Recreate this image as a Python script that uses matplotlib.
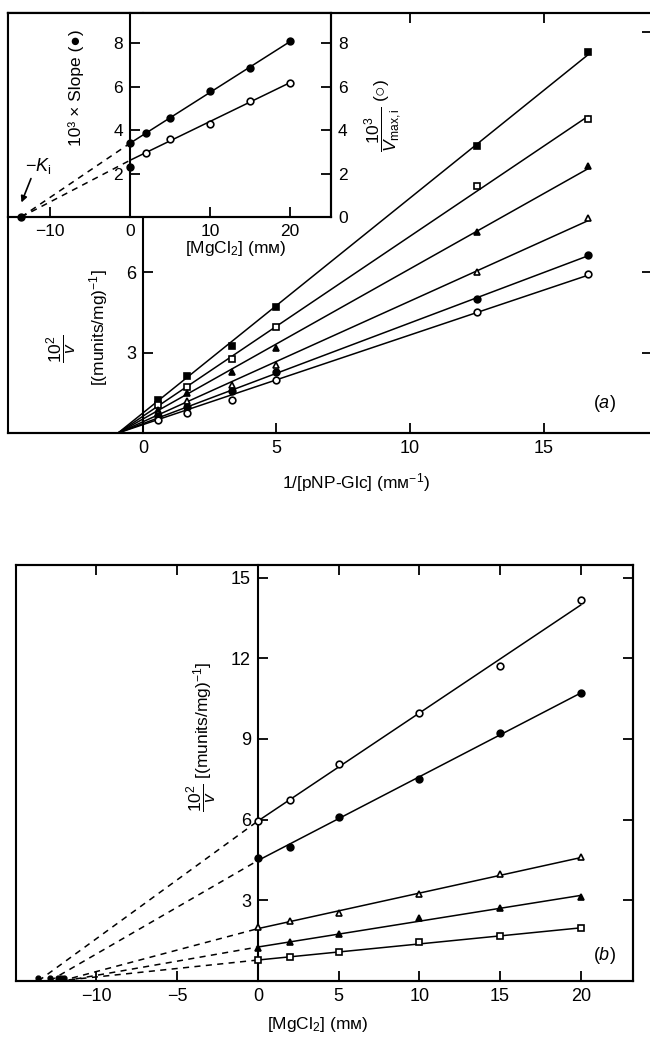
import numpy as np
import matplotlib.pyplot as plt

plt.rcParams['font.family'] = ['Liberation Sans', 'DejaVu Sans']
plt.rcParams['mathtext.fontset'] = 'custom'
plt.rcParams['mathtext.rm'] = 'Liberation Sans'
plt.rcParams['mathtext.it'] = 'Liberation Sans:italic'
plt.rcParams['mathtext.bf'] = 'Liberation Sans:bold'

# ---- (a) double-reciprocal plot, one line per [MgCl2] ----
inv_s = [0.56, 1.67, 3.33, 5.0, 12.5, 16.67]          # 1/[pNP-Glc] (mM^-1)
a_mg20 = [1.24, 2.12, 3.24, 4.70, 10.73, 14.25]       # filled squares
a_mg15 = [1.06, 1.72, 2.76, 3.96, 9.23, 11.73]        # open squares
a_mg10 = [0.87, 1.51, 2.29, 3.18, 7.50, 9.98]         # filled triangles
a_mg5 = [0.74, 1.18, 1.80, 2.54, 6.03, 8.03]          # open triangles
a_mg2 = [0.62, 0.99, 1.58, 2.28, 5.00, 6.65]          # filled circles
a_mg0 = [0.50, 0.76, 1.24, 1.99, 4.53, 5.94]          # open circles
a_cross = -0.93                                       # common point on abscissa

# ---- inset: secondary plots ----
mg_inset = [0, 2, 5, 10, 15, 20]
slope_1e3 = [3.39, 3.85, 4.58, 5.82, 6.85, 8.10]      # filled circles
inv_vmax_1e3 = [2.32, 2.96, 3.58, 4.29, 5.36, 6.19]   # open circles
ki_inset = -13.6

# ---- (b) 10^2/v against [MgCl2] at fixed substrate ----
mg_b = [0, 2, 5, 10, 15, 20]
b_s1 = [5.95, 6.73, 8.07, 9.96, 11.70, 14.16]   # open circles
b_s2 = [4.57, 4.98, 6.10, 7.50, 9.22, 10.70]    # filled circles
b_s3 = [2.00, 2.24, 2.52, 3.22, 3.97, 4.60]     # open triangles
b_s4 = [1.22, 1.45, 1.73, 2.33, 2.72, 3.12]     # filled triangles
b_s5 = [0.77, 0.88, 1.08, 1.44, 1.66, 1.96]     # open squares
b_ki = [-13.6, -12.9, -12.2, -12.0, -12.4]

W, H = 650, 1038
fig = plt.figure(figsize=(W / 100, H / 100), dpi=100)


def rect(left, top, right, bottom):
    return [left / W, 1 - bottom / H, (right - left) / W, (bottom - top) / H]


def fpos(x, y):
    return x / W, 1 - y / H


LW = 1.5
FIT = 1.1
MS = 4.8
TICK = dict(direction='in', length=7, width=1.3, labelsize=13, pad=5)


def style_spines(ax):
    for s in ax.spines.values():
        s.set_linewidth(LW)


def marks(ax, x, y, m, filled, **kw):
    ax.plot(x, y, m, color='k', ms=MS, mew=1.2,
            mfc='k' if filled else 'white', clip_on=False, zorder=5, **kw)


# ================= panel (a) =================
ax = fig.add_axes(rect(8, 13, 652, 433))
ax.set_xlim(-5.05, 19.06)
ax.set_ylim(0, 15.7)
style_spines(ax)
ax.spines['left'].set_position(('data', 0))
ax.set_xticks([0, 5, 10, 15])
ax.set_yticks([3, 6])
ax.tick_params(**TICK)
ax.tick_params(axis='x', top=True)
tw = ax.twinx()
tw.set_ylim(ax.get_ylim())
tw.set_yticks([3, 6, 15])
tw.tick_params(**TICK)
tw.tick_params(labelright=False)
style_spines(tw)

series_a = [(a_mg20, 's', True), (a_mg15, 's', False), (a_mg10, '^', True),
            (a_mg5, '^', False), (a_mg2, 'o', True), (a_mg0, 'o', False)]
xa = np.array(inv_s)
for y, m, f in series_a:
    y = np.array(y)
    k = np.sum((xa - a_cross) * y) / np.sum((xa - a_cross) ** 2)
    xx = np.array([a_cross, xa.max()])
    ax.plot(xx, k * (xx - a_cross), 'k-', lw=FIT)
    marks(ax, xa, y, m, f)

fig.text(*fpos(62, 349), r'$\dfrac{10^2}{v}$', rotation=90, ha='center', va='center', fontsize=12.5)
fig.text(*fpos(99, 328), r'[(munits/mg)$^{-1}$]', rotation=90, ha='center', va='center', fontsize=12.5)
fig.text(*fpos(356, 483), r'1/[pNP-Glc] (mᴍ$^{-1}$)', ha='center', va='center', fontsize=12.5)
fig.text(*fpos(604, 404), r'($\it{a}$)', ha='center', va='center', fontsize=13)

# ================= inset =================
ai = fig.add_axes(rect(8, 13, 331, 217))
ai.set_zorder(3)
ai.set_xlim(-15.25, 25.1)
ai.set_ylim(0, 9.4)
style_spines(ai)
ai.spines['left'].set_position(('data', 0))
ai.set_xticks([-10, 0, 10, 20])
ai.set_yticks([2, 4, 6, 8])
ai.tick_params(**TICK)
ai.tick_params(labelsize=12.5)
ti = ai.twinx()
ti.set_zorder(4)
ti.set_ylim(ai.get_ylim())
ti.set_yticks([0, 2, 4, 6, 8])
ti.tick_params(**TICK)
ti.tick_params(labelsize=12.5)
style_spines(ti)

xm = np.array(mg_inset)
for y, filled, fit_from in [(slope_1e3, True, 0), (inv_vmax_1e3, False, 1)]:
    y = np.array(y)
    p = np.polyfit(xm[fit_from:], y[fit_from:], 1)
    xx = np.array([0, xm.max()])
    ai.plot(xx, np.polyval(p, xx), 'k-', lw=FIT)
    ai.plot([ki_inset, 0], [0, p[1]], color='k', lw=FIT, ls=(0, (4, 3.5)))
    if filled:
        marks(ai, xm, y, 'o', True)
    else:
        marks(ai, xm[:1], y[:1], 'o', True)
        marks(ai, xm[1:], y[1:], 'o', False)
ai.plot([ki_inset], [0], 'ko', ms=5, clip_on=False, zorder=6)
ai.annotate('', xy=(ki_inset - 0.1, 0.55), xycoords='data',
            xytext=fpos(32, 176), textcoords='figure fraction',
            arrowprops=dict(arrowstyle='-|>', color='k', lw=1.2, mutation_scale=9))
fig.text(*fpos(38, 166), r'$-K_\mathrm{i}$', ha='center', va='center', fontsize=13, zorder=10)

fig.text(*fpos(76, 88), '10³ × Slope (●)', rotation=90, ha='center', va='center', fontsize=12.5, zorder=10)
fig.text(*fpos(383, 115), r'$\dfrac{10^3}{V_{\mathrm{max,i}}}$ (○)', rotation=90,
         ha='center', va='center', fontsize=12.5, zorder=10)
fig.text(*fpos(236, 248), r'[MgCl$_2$] (mᴍ)', ha='center', va='center', fontsize=12.5, zorder=10)

# ================= panel (b) =================
bx = fig.add_axes(rect(16, 565, 633, 981))
bx.set_xlim(-14.98, 23.24)
bx.set_ylim(0, 15.47)
style_spines(bx)
bx.spines['left'].set_position(('data', 0))
bx.set_xticks([-10, -5, 0, 5, 10, 15, 20])
bx.set_yticks([3, 6, 9, 12, 15])
bx.tick_params(**TICK)
bx.tick_params(axis='x', top=True)
tb = bx.twinx()
tb.set_ylim(bx.get_ylim())
tb.set_yticks([3, 6, 9, 12, 15])
tb.tick_params(**TICK)
tb.tick_params(labelright=False)
style_spines(tb)

series_b = [(b_s1, 'o', False), (b_s2, 'o', True), (b_s3, '^', False),
            (b_s4, '^', True), (b_s5, 's', False)]
xb = np.array(mg_b)
for (y, m, f), ki in zip(series_b, b_ki):
    y = np.array(y)
    p = np.polyfit(xb, y, 1)
    xx = np.array([0, xb.max()])
    bx.plot(xx, np.polyval(p, xx), 'k-', lw=FIT)
    bx.plot([ki, 0], [0, p[1]], color='k', lw=FIT, ls=(0, (4, 3.5)))
    bx.plot([ki], [0.12], 'ko', ms=3.5, clip_on=False)
    marks(bx, xb, y, m, f)

fig.text(*fpos(202, 737), r'$\dfrac{10^2}{v}$ [(munits/mg)$^{-1}$]', rotation=90,
         ha='center', va='center', fontsize=12.5)
fig.text(*fpos(318, 1024), r'[MgCl$_2$] (mᴍ)', ha='center', va='center', fontsize=12.5)
fig.text(*fpos(604, 955), r'($\it{b}$)', ha='center', va='center', fontsize=13)

fig.savefig('out.png', dpi=100)
